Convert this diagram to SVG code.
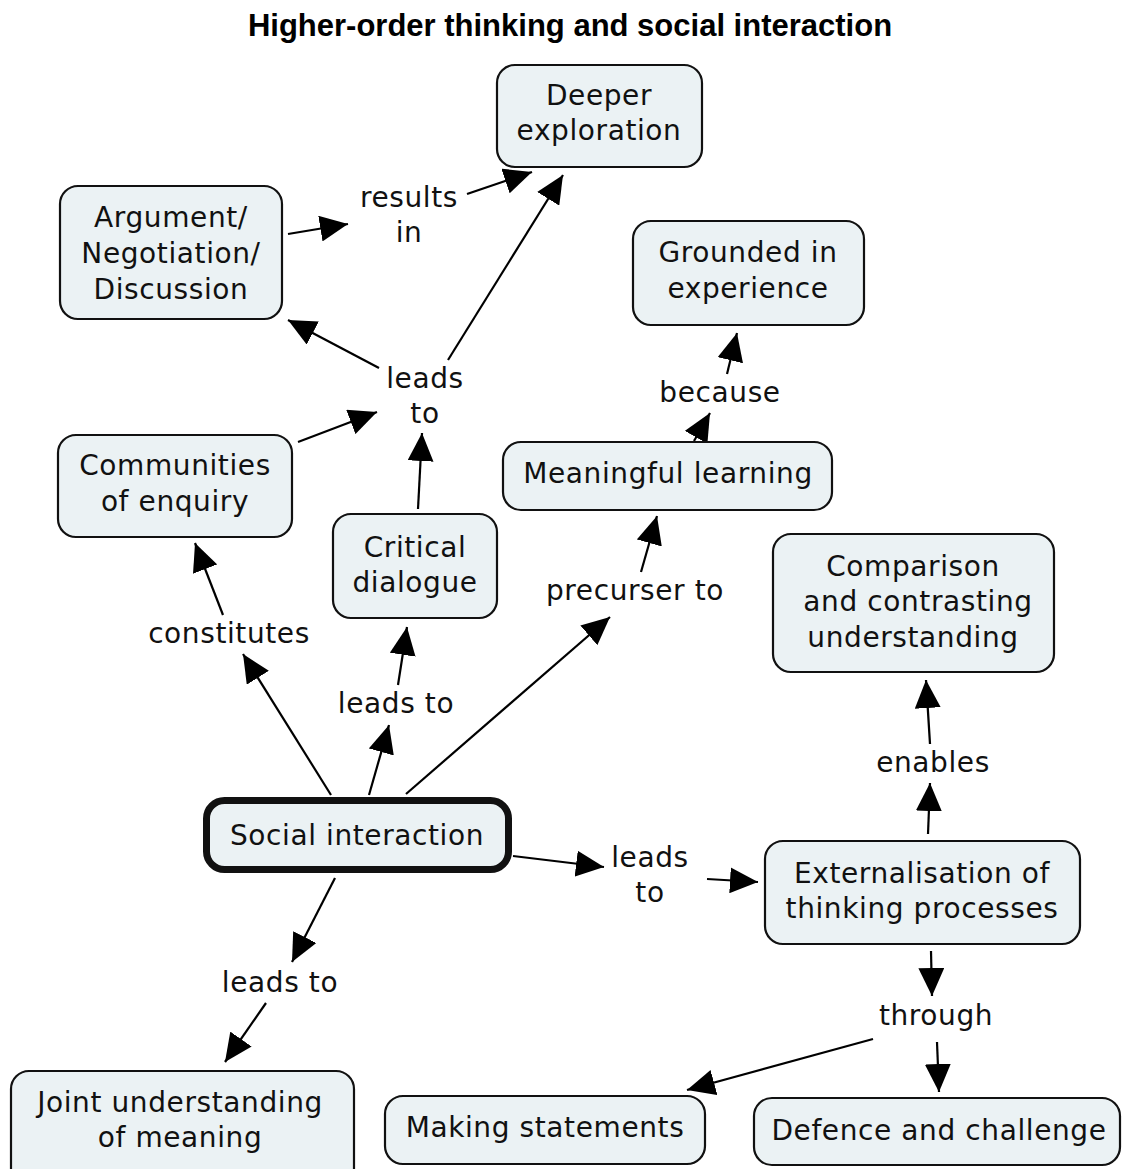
<svg xmlns="http://www.w3.org/2000/svg" width="1128" height="1169" viewBox="0 0 1128 1169">
<defs>
<marker id="ah" markerUnits="userSpaceOnUse" markerWidth="30" markerHeight="26" refX="28" refY="13" orient="auto">
<path d="M0,0 L28,13 L0,26 z" fill="#000"/>
</marker>
<style>
.n rect{fill:#ebf2f4;stroke:#111;stroke-width:2.2}
.t{font-family:"DejaVu Sans","Verdana",sans-serif;font-size:28px;letter-spacing:0.6px;fill:#111;text-anchor:middle}
.ttl{font-family:"Liberation Sans",Arial,sans-serif;font-size:31px;font-weight:bold;fill:#000;text-anchor:middle}
#conn line{stroke:#000;stroke-width:2.2;marker-end:url(#ah)}
</style>
</defs>
<rect width="1128" height="1169" fill="#fff"/>
<text class="ttl" x="570" y="36">Higher-order thinking and social interaction</text>

<g id="conn">
<line x1="288" y1="234" x2="348" y2="224"/>
<line x1="467" y1="194" x2="532" y2="172"/>
<line x1="379" y1="368" x2="288" y2="320"/>
<line x1="448" y1="360" x2="563" y2="175"/>
<line x1="298" y1="442" x2="377" y2="412"/>
<line x1="418" y1="509" x2="422" y2="433"/>
<line x1="694" y1="441" x2="710" y2="413"/>
<line x1="727" y1="374" x2="737" y2="333"/>
<line x1="331" y1="795" x2="243" y2="654"/>
<line x1="223" y1="615" x2="195" y2="543"/>
<line x1="369" y1="795" x2="389" y2="725"/>
<line x1="398" y1="685" x2="407" y2="627"/>
<line x1="406" y1="794" x2="610" y2="617"/>
<line x1="641" y1="572" x2="657" y2="516"/>
<line x1="513" y1="856" x2="604" y2="867"/>
<line x1="707" y1="879" x2="758" y2="882"/>
<line x1="928" y1="834" x2="930" y2="783"/>
<line x1="930" y1="744" x2="926" y2="680"/>
<line x1="931" y1="951" x2="932" y2="996"/>
<line x1="873" y1="1039" x2="687" y2="1090"/>
<line x1="937" y1="1042" x2="939" y2="1092"/>
<line x1="335" y1="878" x2="292" y2="962"/>
<line x1="266" y1="1003" x2="225" y2="1062"/>
</g>

<g id="deeper" class="n"><rect x="497" y="65" width="205" height="102" rx="18"/><text class="t" x="599" y="105">Deeper</text><text class="t" x="599" y="140">exploration</text></g>
<g id="argument" class="n"><rect x="60" y="186" width="222" height="133" rx="18"/><text class="t" x="171" y="227">Argument/</text><text class="t" x="171" y="263">Negotiation/</text><text class="t" x="171" y="299">Discussion</text></g>
<g id="grounded" class="n"><rect x="633" y="221" width="231" height="104" rx="18"/><text class="t" x="748" y="262">Grounded in</text><text class="t" x="748" y="298">experience</text></g>
<g id="communities" class="n"><rect x="58" y="435" width="234" height="102" rx="18"/><text class="t" x="175" y="475">Communities</text><text class="t" x="175" y="511">of enquiry</text></g>
<g id="critical" class="n"><rect x="333" y="514" width="164" height="104" rx="18"/><text class="t" x="415" y="557">Critical</text><text class="t" x="415" y="592">dialogue</text></g>
<g id="meaningful" class="n"><rect x="503" y="442" width="329" height="68" rx="18"/><text class="t" x="668" y="483">Meaningful learning</text></g>
<g id="comparison" class="n"><rect x="773" y="534" width="281" height="138" rx="18"/><text class="t" x="913" y="576">Comparison</text><text class="t" x="918" y="611">and contrasting</text><text class="t" x="913" y="647">understanding</text></g>
<g id="social" class="n"><rect x="206.5" y="800.5" width="302" height="69" rx="18" style="stroke-width:7"/><text class="t" x="357" y="845">Social interaction</text></g>
<g id="externalisation" class="n"><rect x="765" y="841" width="315" height="103" rx="18"/><text class="t" x="922" y="883">Externalisation of</text><text class="t" x="922" y="918">thinking processes</text></g>
<g id="joint" class="n"><rect x="11" y="1071" width="343" height="120" rx="18"/><text class="t" x="180" y="1112">Joint understanding</text><text class="t" x="180" y="1147">of meaning</text></g>
<g id="making" class="n"><rect x="385" y="1096" width="320" height="68" rx="18"/><text class="t" x="545" y="1137">Making statements</text></g>
<g id="defence" class="n"><rect x="754" y="1098" width="366" height="67" rx="18"/><text class="t" x="939" y="1140">Defence and challenge</text></g>

<g id="lp-results"><text class="t" x="409" y="207">results</text><text class="t" x="409" y="242">in</text></g>
<g id="lp-leads1"><text class="t" x="425" y="388">leads</text><text class="t" x="425" y="423">to</text></g>
<g id="lp-because"><text class="t" x="720" y="402">because</text></g>
<g id="lp-constitutes"><text class="t" x="229" y="643">constitutes</text></g>
<g id="lp-leads2"><text class="t" x="396" y="713">leads to</text></g>
<g id="lp-precurser"><text class="t" x="635" y="600">precurser to</text></g>
<g id="lp-enables"><text class="t" x="933" y="772">enables</text></g>
<g id="lp-leads3"><text class="t" x="650" y="867">leads</text><text class="t" x="650" y="902">to</text></g>
<g id="lp-leads4"><text class="t" x="280" y="992">leads to</text></g>
<g id="lp-through"><text class="t" x="936" y="1025">through</text></g>
</svg>
